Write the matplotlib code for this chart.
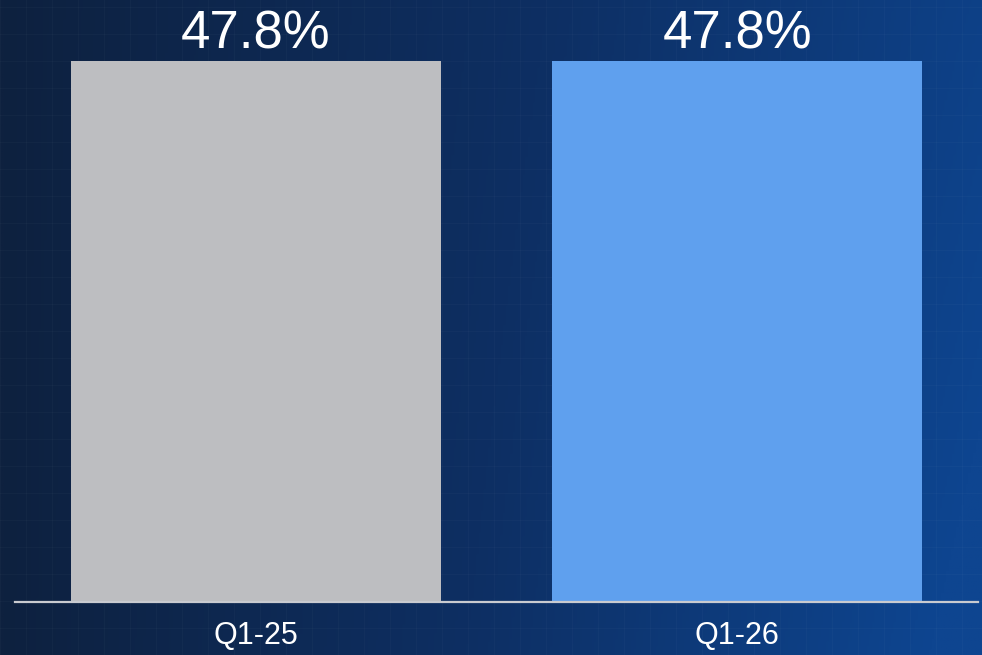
import numpy as np
import matplotlib
matplotlib.use('Agg')
import matplotlib.pyplot as plt
from matplotlib.colors import LinearSegmentedColormap

# Gross margin by quarter
quarters = ['Q1-25', 'Q1-26']
margin_pct = [47.8, 47.8]
bar_colors = ['#bdbec1', '#5fa0ee']

plt.rcParams['font.family'] = ['Liberation Sans', 'DejaVu Sans']

W, H, DPI = 982, 655, 100
fig = plt.figure(figsize=(W / DPI, H / DPI), dpi=DPI)

# navy-to-blue backdrop with a faint tile grid
bg = fig.add_axes([0, 0, 1, 1])
bg.set_axis_off()
cmap = LinearSegmentedColormap.from_list('bg', ['#0e213f', '#0d2f63', '#0e4590'])
xx, yy = np.meshgrid(np.linspace(0, 1, 400), np.linspace(0, 1, 300))
grad = np.clip(0.85 * xx + 0.15 * (1 - yy) * xx + 0.05, 0, 1)
bg.imshow(grad, cmap=cmap, aspect='auto', extent=[0, 1, 0, 1], origin='lower')
for gx in np.arange(0, 1, 26 / W):
    bg.axvline(gx, color='white', alpha=0.022, lw=1)
for gy in np.arange(0, 1, 27 / H):
    bg.axhline(gy, color='white', alpha=0.022, lw=1)
bg.set_xlim(0, 1)
bg.set_ylim(0, 1)

# chart area: baseline at y=602 px, top of figure as upper bound
left, right = 15 / W, 978 / W
bottom = (H - 602) / H
ax = fig.add_axes([left, bottom, right - left, 1 - bottom])
ax.patch.set_alpha(0)
x = np.arange(len(quarters))
bars = ax.bar(x, margin_pct, width=0.768, color=bar_colors, zorder=2)
ax.set_xlim(-0.5, 1.5)
ax.set_ylim(0, 47.8 * 602 / 541)

for b, v in zip(bars, margin_pct):
    ax.text(b.get_x() + b.get_width() / 2, v + 0.1, f'{v:.1f}%',
            ha='center', va='bottom', color='white', fontsize=38)

for s in ['top', 'right', 'left']:
    ax.spines[s].set_visible(False)
ax.spines['bottom'].set_color('#c9cbd0')
ax.spines['bottom'].set_linewidth(1.6)
ax.set_yticks([])
ax.set_xticks(x)
ax.set_xticklabels(quarters, color='white', fontsize=22)
ax.tick_params(axis='x', length=0, pad=14)

fig.savefig('out.png', dpi=DPI)
